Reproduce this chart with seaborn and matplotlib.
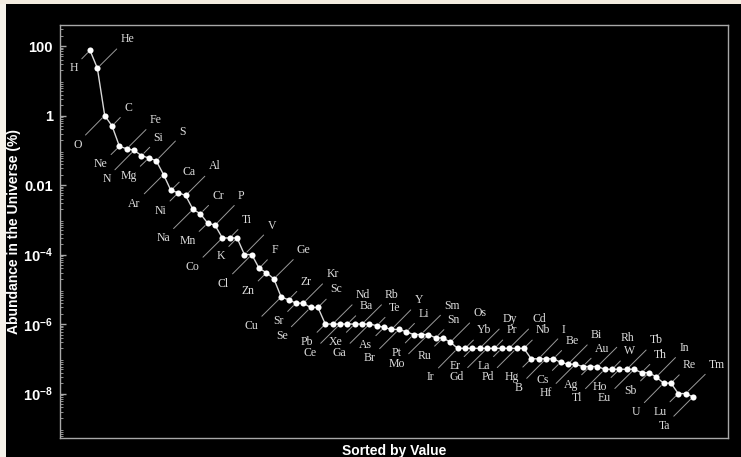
import matplotlib
matplotlib.use("Agg")
import matplotlib.pyplot as plt
from matplotlib.patches import Rectangle
from matplotlib.ticker import FixedLocator, LogLocator, NullFormatter
import numpy as np
import pandas as pd
import seaborn as sns

# Elements ordered by abundance in the universe (mass fraction, percent)
elements = [
    "H", "He", "O", "C", "Ne", "Fe", "N", "Si", "Mg", "S",
    "Ar", "Ca", "Ni", "Al", "Na", "Cr", "Mn", "P", "Co", "Ti",
    "K", "V", "Cl", "F", "Zn", "Ge", "Cu", "Zr", "Sr", "Kr",
    "Se", "Sc", "Pb", "Nd", "Ce", "Ba", "Xe", "Rb", "Ga", "Te",
    "As", "Y", "Br", "Li", "Pt", "Sm", "Mo", "Sn", "Ru", "Os",
    "Ir", "Yb", "Er", "Dy", "Gd", "Pr", "La", "Cd", "Pd", "Nb",
    "Hg", "I", "B", "Be", "Cs", "Bi", "Hf", "Au", "Ag", "Rh",
    "Tl", "W", "Ho", "Tb", "Eu", "Th", "Sb", "In", "U", "Re",
    "Lu", "Tm", "Ta",
]
abundance_pct = [
    75, 23, 1.0, 0.5, 0.13, 0.11, 0.1, 0.07, 0.06, 0.05,
    0.02, 0.007, 0.006, 0.005, 0.002, 0.0015, 0.0008, 0.0007, 0.0003, 0.0003,
    0.0003, 1e-4, 1e-4, 4e-5, 3e-5, 2e-5, 6e-6, 5e-6, 4e-6, 4e-6,
    3e-6, 3e-6, 1e-6, 1e-6, 1e-6, 1e-6, 1e-6, 1e-6, 1e-6, 9e-7,
    8e-7, 7e-7, 7e-7, 6e-7, 5e-7, 5e-7, 5e-7, 4e-7, 4e-7, 3e-7,
    2e-7, 2e-7, 2e-7, 2e-7, 2e-7, 2e-7, 2e-7, 2e-7, 2e-7, 2e-7,
    1e-7, 1e-7, 1e-7, 1e-7, 8e-8, 7e-8, 7e-8, 6e-8, 6e-8, 6e-8,
    5e-8, 5e-8, 5e-8, 5e-8, 5e-8, 4e-8, 4e-8, 3e-8, 2e-8, 2e-8,
    1e-8, 1e-8, 8e-9,
]
ytick_values = [1e2, 1e0, 1e-2, 1e-4, 1e-6, 1e-8]
ytick_labels = ["100", "1", "0.01",
                r"$\mathbf{10^{-4}}$", r"$\mathbf{10^{-6}}$", r"$\mathbf{10^{-8}}$"]

df = pd.DataFrame({"rank": np.arange(len(elements)),
                   "abundance": abundance_pct,
                   "element": elements})

sns.set_theme(style="dark")
plt.rcParams["font.family"] = ["Liberation Sans", "DejaVu Sans"]
plt.rcParams["mathtext.fontset"] = "custom"
plt.rcParams["mathtext.rm"] = "Liberation Sans"
plt.rcParams["mathtext.bf"] = "Liberation Sans:bold"

W, H = 741, 457
fig = plt.figure(figsize=(W / 100, H / 100), dpi=100, facecolor="black")

# cream window edge along the top and left
fig.patches.append(Rectangle((0, 0), 6 / W, 1, transform=fig.transFigure,
                             facecolor="#f6f2ea", edgecolor="none", zorder=0))
fig.patches.append(Rectangle((0, 1 - 4 / H), 1, 4 / H, transform=fig.transFigure,
                             facecolor="#f3ece0", edgecolor="none", zorder=0))

ax = fig.add_axes([60 / W, (H - 437.7) / H, (728 - 60) / W, (437.7 - 24.7) / H])
ax.set_facecolor("black")

sns.lineplot(data=df, x="rank", y="abundance", ax=ax, color="#d8d8d8",
             linewidth=1.0, marker="o", markersize=4.4,
             markerfacecolor="white", markeredgewidth=0, zorder=3)

ax.set_yscale("log")
ax.set_ylim(10 ** -9.27, 10 ** 2.613)
ax.set_xlim(-4.08, 86.76)

# callout labels: alternating below-left / above-right with short / long leaders
short_off, long_off = 12 * 0.72, 23 * 0.72
for i, (name, val) in enumerate(zip(elements, abundance_pct)):
    k = i % 4
    below = k in (0, 2)
    d = short_off if k in (0, 3) else long_off
    if below:
        off, ha, va, rel = (-d, -d), "right", "top", (0.9, 0.9)
    else:
        off, ha, va, rel = (d, d), "left", "bottom", (0.1, 0.1)
    ax.annotate(name, xy=(i, val), xytext=off, textcoords="offset points",
                ha=ha, va=va, fontsize=8.5, color="#dcdcdc",
                family=["Liberation Serif", "DejaVu Serif"],
                arrowprops=dict(arrowstyle="-", color="#9a9a9a", lw=0.7,
                                shrinkA=0.5, shrinkB=2.5, relpos=rel),
                zorder=2)

# axes frame and ticks
for sp in ax.spines.values():
    sp.set_visible(True)
    sp.set_color("#a8a8a8")
    sp.set_linewidth(1.0)

ax.yaxis.set_major_locator(FixedLocator(ytick_values))
ax.set_yticklabels(ytick_labels)
ax.yaxis.set_minor_locator(LogLocator(base=10, subs=np.arange(2, 10), numticks=40))
ax.yaxis.set_minor_formatter(NullFormatter())
ax.tick_params(axis="y", which="major", direction="in", length=4, width=1,
               color="#a8a8a8", labelcolor="white", labelsize=10.5, pad=5,
               left=True)
ax.tick_params(axis="y", which="minor", direction="in", length=2, width=0.6,
               color="#a8a8a8", left=True)
for lab in ax.get_yticklabels():
    lab.set_fontweight("bold")
ax.set_xticks([])
ax.grid(False)

ax.set_ylabel("Abundance in the Universe (%)", color="white", fontsize=10,
              fontweight="bold")
ax.yaxis.set_label_coords(-0.058, 0.5)
ax.set_xlabel("Sorted by Value", color="white", fontsize=10, fontweight="bold",
              va="center")
ax.xaxis.set_label_coords(0.5, -0.031)

fig.savefig("out.png", dpi=100, facecolor=fig.get_facecolor())
